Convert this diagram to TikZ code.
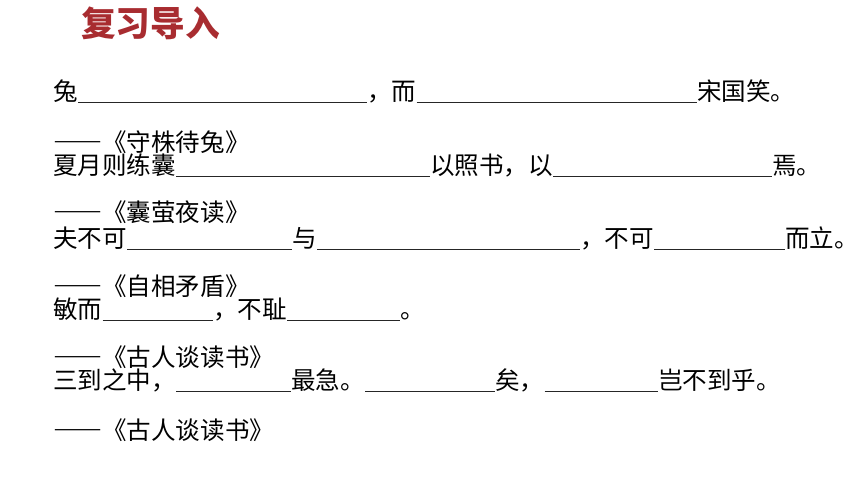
\documentclass[tikz,border=0pt]{standalone}
\usepackage{fontspec}
\setmainfont{Noto Sans CJK SC}
\usepackage{tikz}
\definecolor{titlered}{RGB}{168,44,48}
\newcommand{\dashA}{{\bfseries\addfontfeatures{CharacterWidth=Full}——}}
\tikzset{%
  txtA/.style={anchor=base west, inner sep=0pt, text height=0.83em, text depth=0.05em,
    font=\fontsize{18.4pt}{22pt}\selectfont},
  gapA/.style={line width=1pt, black!85},
}
\begin{document}
\begin{tikzpicture}[x=0.75pt,y=-0.75pt]
\useasboundingbox (0,0) rectangle (860,484);
\node[anchor=base west, inner sep=0pt, titlered, font=\fontsize{26pt}{30pt}\selectfont\bfseries] (title) at (81,37) {复习导入};
% line 1
\node[txtA] (l1a) at (53,101) {兔};
\node[txtA] (l1b) at (367,101) {，而};
\node[txtA] (l1c) at (697,101) {宋国笑。};
\node[txtA] (s1) at (53,152) {\dashA《守株待兔》};
% line 2
\node[txtA] (l2a) at (53,175) {夏月则练囊};
\node[txtA] (l2b) at (430,175) {以照书，以};
\node[txtA] (l2c) at (772,175) {焉。};
\node[txtA] (s2) at (53,222) {\dashA《囊萤夜读》};
% line 3
\node[txtA] (l3a) at (53,248) {夫不可};
\node[txtA] (l3b) at (292,248) {与};
\node[txtA] (l3c) at (580,248) {，不可};
\node[txtA] (l3d) at (785,248) {而立。};
\node[txtA] (s3) at (53,296) {\dashA《自相矛盾》};
% line 4
\node[txtA] (l4a) at (53,319) {敏而};
\node[txtA] (l4b) at (213,319) {，不耻};
\node[txtA] (l4c) at (400,319) {。};
\node[txtA] (s4) at (53,367) {\dashA《古人谈读书》};
% line 5
\node[txtA] (l5a) at (53,390) {三到之中，};
\node[txtA] (l5b) at (291,390) {最急。};
\node[txtA] (l5c) at (495,390) {矣，};
\node[txtA] (l5d) at (658,390) {岂不到乎。};
\node[txtA] (s5) at (53,439) {\dashA《古人谈读书》};
% blanks
\foreach \a/\b in {l1a/l1b,l1b/l1c,l2a/l2b,l2b/l2c,l3a/l3b,l3b/l3c,l3c/l3d,l4a/l4b,l4b/l4c,l5a/l5b,l5b/l5c,l5c/l5d}
  \draw[gapA] ([yshift=-1.1pt]\a.base east) -- ([yshift=-1.1pt]\b.base west);
\end{tikzpicture}
\end{document}
